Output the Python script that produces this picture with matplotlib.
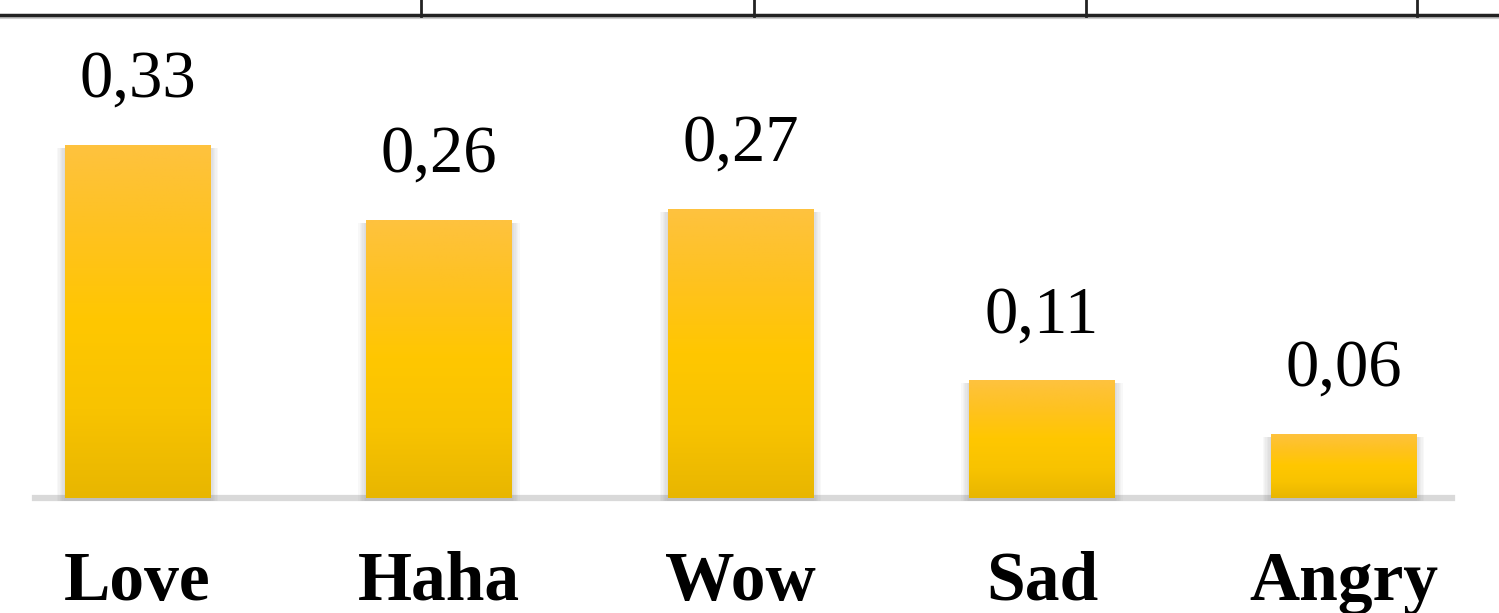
import matplotlib.pyplot as plt
import numpy as np
from matplotlib.colors import LinearSegmentedColormap
from matplotlib.patches import Rectangle

categories = ["Love", "Haha", "Wow", "Sad", "Angry"]
values = [0.33, 0.26, 0.27, 0.11, 0.06]
value_labels = ["0,33", "0,26", "0,27", "0,11", "0,06"]

plt.rcParams['font.family'] = ['Liberation Serif', 'DejaVu Serif']

fig = plt.figure(figsize=(14.99, 6.13), dpi=100)
ax = fig.add_axes([0, 0, 1, 1])
ax.axis('off')

# gradient fill like the office chart
grad = LinearSegmentedColormap.from_list(
    "bar", ["#e8b600", "#f8c300", "#ffc700", "#ffc21f", "#fec23f"])
width = 0.481
x = np.arange(len(categories))

# baseline
ax.axhline(0, xmin=0.0233, xmax=0.9687, color="#d9d9d9", lw=4.5, zorder=1)

bars = ax.bar(x, values, width=width, color="none", zorder=3)
for b in bars:
    x0, y0 = b.get_x(), b.get_y()
    w, h = b.get_width(), b.get_height()
    # soft shadow on the sides
    for k in range(6):
        pad = 0.0045 * (k + 1)
        ax.add_patch(Rectangle((x0 - pad, y0 - 0.003), w + 2 * pad, h,
                               facecolor="#707070", alpha=0.045,
                               edgecolor="none", zorder=2))
    g = np.linspace(0, 1, 256).reshape(-1, 1)
    im = ax.imshow(g, cmap=grad, aspect="auto", origin="lower",
                   extent=(x0, x0 + w, y0, y0 + h), zorder=3)
    im.set_clip_path(b)

ax.set_xlim(-0.456, 4.516)
ax.set_ylim(-0.1075, 0.4654)

for xi, v, lab in zip(x, values, value_labels):
    ax.text(xi, v + 0.045, lab, ha="center", va="baseline", fontsize=48)

for xi, cat in zip(x, categories):
    ax.text(xi, -0.0953, cat, ha="center", va="baseline", fontsize=50,
            fontweight="bold")

# table border from the page above the chart
fig.add_artist(plt.Line2D([0, 1], [1 - 17 / 613, 1 - 17 / 613],
                          color="#cccccc", lw=3))
fig.add_artist(plt.Line2D([0, 1], [1 - 15 / 613, 1 - 15 / 613],
                          color="#222222", lw=2.5))
for px in [421, 754, 1086, 1417]:
    fig.add_artist(plt.Line2D([px / 1499, px / 1499], [1 - 16 / 613, 1],
                              color="#222222", lw=2))

fig.savefig("out.png", dpi=100)
